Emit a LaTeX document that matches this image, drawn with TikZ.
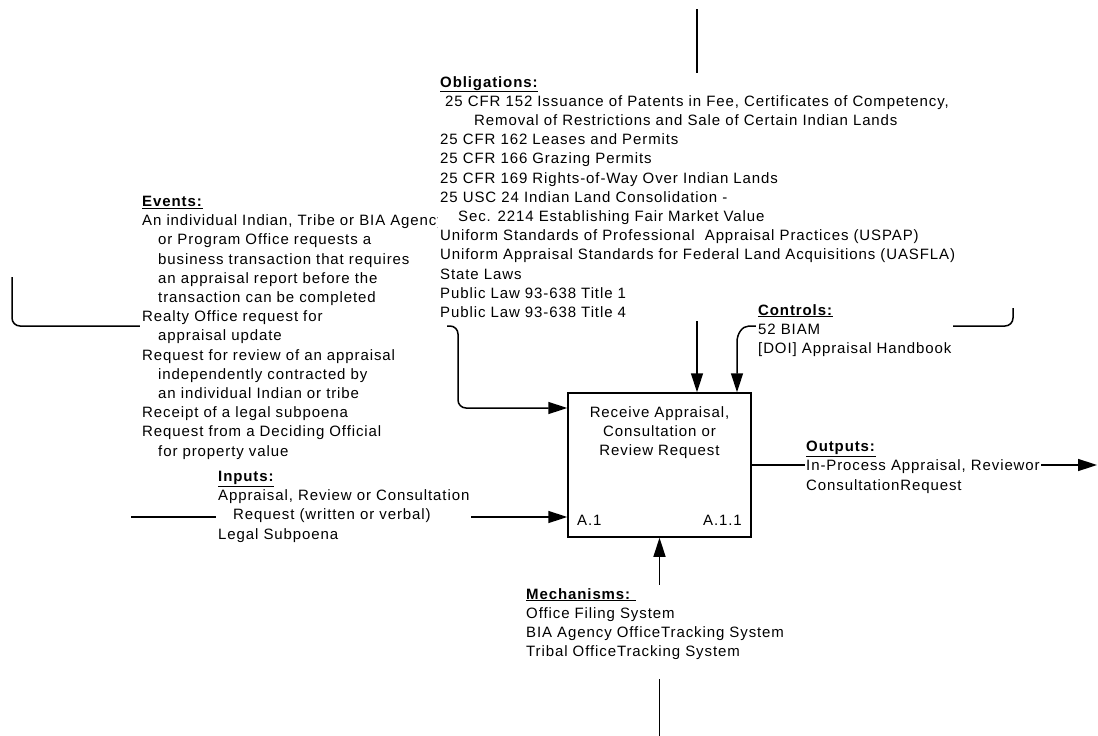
\documentclass[tikz,border=0pt]{standalone}
\usepackage{fontspec}
\setmainfont{Liberation Sans}[LetterSpace=6]
\usetikzlibrary{arrows.meta}
\newcommand\heading[1]{\underline{\textbf{#1}}}
\begin{document}
\begin{tikzpicture}[x=1pt,y=-1pt,
  flow/.style={line width=1.5pt},
  tip/.style={-{Triangle[length=19pt,width=12pt]}},
  txt/.style={font=\fontsize{15}{19.2}\selectfont},
  note/.style={txt, anchor=north west, align=left, fill=white, inner xsep=2pt, inner ysep=3pt},
  procbox/.style={draw, line width=1.5pt, minimum width=183pt, minimum height=144pt, inner sep=0pt},
]
\useasboundingbox (0,0) rectangle (1098,736);

% activity box
\node[procbox] (proc) at (659.5,465) {};
\node[txt, anchor=north, align=center, inner sep=0pt] (proctitle) at (659.5,406)
  {Receive Appraisal,\\Consultation or\\Review Request};
\node[txt, anchor=base west, inner sep=0pt] (pnum) at (577,525) {A.1};
\node[txt, anchor=base east, inner sep=0pt] (pref) at (742,525) {A.1.1};

% free ends of the connectors
\coordinate (oblsrc) at (697,9);
\coordinate (ctlsrc) at (1013,308);
\coordinate (evtsrc) at (12,277);
\coordinate (insrc) at (131,517);
\coordinate (outdst) at (1097,465);
\coordinate (mechsrc) at (659.5,736);

% connectors (the white label boxes drawn later mask their middle parts)
\draw[flow,tip] (oblsrc) -- ([xshift=37.5pt]proc.north);
\draw[flow,tip,rounded corners=8pt] (ctlsrc) -- (1013,326) -- (757,326)
  .. controls (742,326) and (737,334) .. (737,350) -- ([xshift=77.5pt]proc.north);
\draw[flow,tip,rounded corners=8pt] (evtsrc) -- (12,326) -- (458,326) -- (458,408)
  -- ([yshift=57pt]proc.west);
\draw[flow,tip] (insrc) -- (proc.west |- insrc);
\draw[flow,tip] (proc.east) -- (outdst);
\draw[flow,tip] (mechsrc) -- (proc.south);

% labels
\node[note] (events) at (140,193) {\heading{Events:}\\
An individual Indian, Tribe or BIA Agency\\
\hspace*{16pt}or Program Office requests a\\
\hspace*{16pt}business transaction that requires\\
\hspace*{16pt}an appraisal report before the\\
\hspace*{16pt}transaction can be completed\\
Realty Office request for\\
\hspace*{16pt}appraisal update\\
Request for review of an appraisal\\
\hspace*{16pt}independently contracted by\\
\hspace*{16pt}an individual Indian or tribe\\
Receipt of a legal subpoena\\
Request from a Deciding Official\\
\hspace*{16pt}for property value};

\node[note] (oblig) at (438,73) {\heading{Obligations:}\\
\hspace*{5pt}25 CFR 152 Issuance of Patents in Fee, Certificates of Competency,\\
\hspace*{34pt}Removal of Restrictions and Sale of Certain Indian Lands\\
25 CFR 162 Leases and Permits\\
25 CFR 166 Grazing Permits\\
25 CFR 169 Rights-of-Way Over Indian Lands\\
25 USC 24 Indian Land Consolidation -\\
\hspace*{18pt}Sec. 2214 Establishing Fair Market Value\\
Uniform Standards of Professional\ \ Appraisal Practices (USPAP)\\
Uniform Appraisal Standards for Federal Land Acquisitions (UASFLA)\\
State Laws\\
Public Law 93-638 Title 1\\
Public Law 93-638 Title 4};

\node[note] (controls) at (756,301) {\heading{Controls:}\\
52 BIAM\\{}[DOI] Appraisal Handbook};

\node[note] (inputs) at (216,468) {\heading{Inputs:}\\
Appraisal, Review or Consultation\\
\hspace*{15pt}Request (written or verbal)\\
Legal Subpoena};

\node[note, inner xsep=1pt] (outputs) at (805,438) {\heading{Outputs:}\\
In-Process Appraisal, Reviewor\\
ConsultationRequest};

\node[note] (mechs) at (524,585) {\heading{Mechanisms:~}\\
Office Filing System\\
BIA Agency OfficeTracking System\\
Tribal OfficeTracking System\\
\mbox{}};
\end{tikzpicture}
\end{document}
